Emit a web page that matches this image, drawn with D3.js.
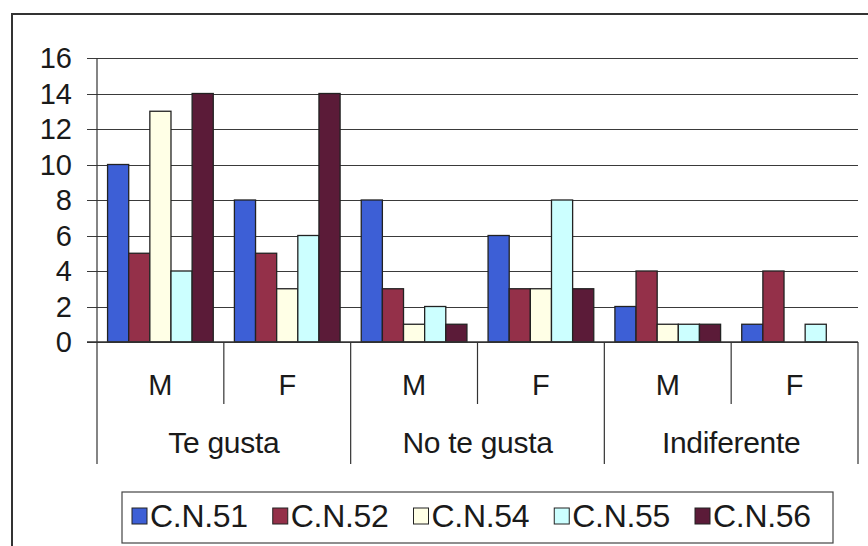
<!DOCTYPE html>
<html>
<head>
<meta charset="utf-8">
<script src="https://cdn.jsdelivr.net/npm/d3@7"></script>
<style>
  body { margin: 0; background: #fff; }
  text { font-family: "Liberation Sans", Arial, sans-serif; fill: #1a1a1a; }
</style>
</head>
<body>
<svg id="chart" width="868" height="546"></svg>
<script>
// chart data
var groups = ["Te gusta", "No te gusta", "Indiferente"];
var sexes = ["M", "F"];
var seriesNames = ["C.N.51", "C.N.52", "C.N.54", "C.N.55", "C.N.56"];
var seriesColors = ["#3d5fd6", "#943049", "#ffffe6", "#ccffff", "#5b1b38"];
// one value per (group, sex) column, in order Te gusta M/F, No te gusta M/F, Indiferente M/F
var cn51 = [10, 8, 8, 6, 2, 1];
var cn52 = [5, 5, 3, 3, 4, 4];
var cn54 = [13, 3, 1, 3, 1, 0];
var cn55 = [4, 6, 2, 8, 1, 1];
var cn56 = [14, 14, 1, 3, 1, 0];
var yTicks = [0, 2, 4, 6, 8, 10, 12, 14, 16];

var seriesValues = [cn51, cn52, cn54, cn55, cn56];

var svg = d3.select("#chart");

// outer frame (right and bottom edges fall off the picture)
svg.append("rect")
    .attr("x", 12).attr("y", 14)
    .attr("width", 880).attr("height", 560)
    .attr("fill", "none").attr("stroke", "#333").attr("stroke-width", 2);

var plotLeft = 97, plotRight = 858, plotTop = 58, plotBottom = 342;

// columns: group x sex
var columns = [];
groups.forEach(function (g) {
    sexes.forEach(function (s) { columns.push(g + "|" + s); });
});

var x0 = d3.scaleBand().domain(columns).range([plotLeft, plotRight]).padding(0);
var x1 = d3.scaleBand().domain(seriesNames).range([0, x0.bandwidth()])
    .paddingInner(0).paddingOuter(0.5);
var y = d3.scaleLinear().domain([0, 16]).range([plotBottom, plotTop]);

// gridlines with outside tick marks
var yAxis = d3.axisLeft(y).tickValues(yTicks).tickSize(-(plotRight - plotLeft + 10)).tickFormat("");
svg.append("g")
    .attr("transform", "translate(" + (plotLeft - 10) + ",0)")
    .call(yAxis)
    .call(function (g) {
        g.select(".domain").remove();
        g.selectAll(".tick line").attr("stroke", "#3a3a3a").attr("stroke-width", 1)
            .attr("shape-rendering", "crispEdges");
    });

// y tick labels
svg.append("g").selectAll("text")
    .data(yTicks)
    .enter().append("text")
    .attr("x", 72)
    .attr("y", function (d) { return y(d); })
    .attr("dy", "0.36em")
    .attr("text-anchor", "end")
    .style("font-size", "29px")
    .text(function (d) { return d; });

// bars
var barG = svg.append("g");
seriesValues.forEach(function (vals, si) {
    barG.selectAll(".s" + si)
        .data(vals)
        .enter().append("rect")
        .attr("class", "s" + si)
        .attr("x", function (d, i) { return x0(columns[i]) + x1(seriesNames[si]); })
        .attr("y", function (d) { return y(d); })
        .attr("width", x1.bandwidth())
        .attr("height", function (d) { return plotBottom - y(d); })
        .attr("fill", seriesColors[si])
        .attr("stroke", "#222")
        .attr("stroke-width", function (d) { return d > 0 ? 1.3 : 0; });
});

// y axis line and x axis line
svg.append("line")
    .attr("x1", plotLeft).attr("x2", plotLeft).attr("y1", plotTop).attr("y2", plotBottom)
    .attr("stroke", "#333").attr("stroke-width", 1.2);
svg.append("line")
    .attr("x1", plotLeft - 10).attr("x2", plotRight).attr("y1", plotBottom).attr("y2", plotBottom)
    .attr("stroke", "#333").attr("stroke-width", 1.5);

// two-level category axis
var catG = svg.append("g");
columns.forEach(function (c, i) {
    var xs = x0(c);
    var isGroupEdge = i % 2 === 0;
    catG.append("line")
        .attr("x1", xs).attr("x2", xs)
        .attr("y1", plotBottom).attr("y2", isGroupEdge ? 464 : 404)
        .attr("stroke", "#333").attr("stroke-width", 1.2);
    catG.append("text")
        .attr("x", xs + x0.bandwidth() / 2)
        .attr("y", 395)
        .attr("text-anchor", "middle")
        .style("font-size", "29px")
        .text(c.split("|")[1]);
});
catG.append("line")
    .attr("x1", plotRight).attr("x2", plotRight).attr("y1", plotBottom).attr("y2", 464)
    .attr("stroke", "#333").attr("stroke-width", 1.2);

groups.forEach(function (g) {
    var a = x0(g + "|" + sexes[0]);
    var b = x0(g + "|" + sexes[1]) + x0.bandwidth();
    catG.append("text")
        .attr("x", (a + b) / 2)
        .attr("y", 453)
        .attr("text-anchor", "middle")
        .style("font-size", "30px")
        .style("letter-spacing", "-0.3px")
        .text(g);
});

// legend
var legend = svg.append("g");
legend.append("rect")
    .attr("x", 122).attr("y", 492)
    .attr("width", 711).attr("height", 51)
    .attr("fill", "#fff").attr("stroke", "#444").attr("stroke-width", 1.2);

var legX = d3.scalePoint().domain(seriesNames).range([132, 695]);
var item = legend.selectAll(".item")
    .data(seriesNames)
    .enter().append("g")
    .attr("class", "item")
    .attr("transform", function (d) { return "translate(" + legX(d) + ",0)"; });
item.append("rect")
    .attr("x", 0).attr("y", 508)
    .attr("width", 15).attr("height", 16)
    .attr("fill", function (d, i) { return seriesColors[i]; })
    .attr("stroke", "#222").attr("stroke-width", 1);
item.append("text")
    .attr("x", 18).attr("y", 527)
    .style("font-size", "32px")
    .style("letter-spacing", "-0.3px")
    .text(function (d) { return d; });
</script>
</body>
</html>
